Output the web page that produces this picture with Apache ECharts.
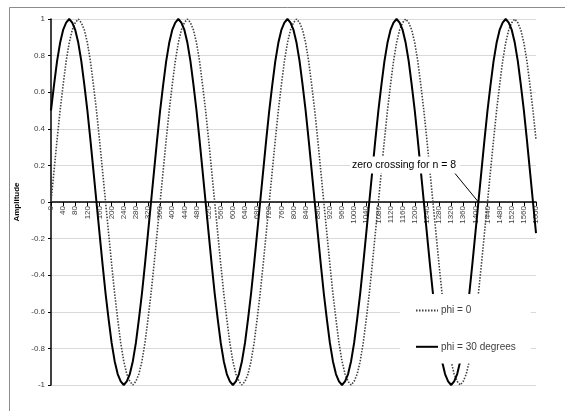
<!DOCTYPE html>
<html><head><meta charset="utf-8">
<script src="https://cdn.jsdelivr.net/npm/echarts@6/dist/echarts.min.js"></script>
<style>html,body{margin:0;padding:0;background:#fff}#c{width:565px;height:411px}</style>
</head><body><div id="c"></div>
<script>
const angles = [0,10,20,30,40,50,60,70,80,90,100,110,120,130,140,150,160,170,180,190,200,210,220,230,240,250,260,270,280,290,300,310,320,330,340,350,
360,370,380,390,400,410,420,430,440,450,460,470,480,490,500,510,520,530,540,550,560,570,580,590,600,610,620,630,640,650,660,670,680,690,700,710,
720,730,740,750,760,770,780,790,800,810,820,830,840,850,860,870,880,890,900,910,920,930,940,950,960,970,980,990,1000,1010,1020,1030,1040,1050,1060,1070,
1080,1090,1100,1110,1120,1130,1140,1150,1160,1170,1180,1190,1200,1210,1220,1230,1240,1250,1260,1270,1280,1290,1300,1310,1320,1330,1340,1350,1360,1370,1380,1390,1400,1410,1420,1430,
1440,1450,1460,1470,1480,1490,1500,1510,1520,1530,1540,1550,1560,1570,1580,1590,1600];
const phi0 = [0,.17,.34,.5,.64,.77,.87,.94,.98,1,.98,.94,.87,.77,.64,.5,.34,.17,0,-.17,-.34,-.5,-.64,-.77,-.87,-.94,-.98,-1,-.98,-.94,-.87,-.77,-.64,-.5,-.34,-.17,
0,.17,.34,.5,.64,.77,.87,.94,.98,1,.98,.94,.87,.77,.64,.5,.34,.17,0,-.17,-.34,-.5,-.64,-.77,-.87,-.94,-.98,-1,-.98,-.94,-.87,-.77,-.64,-.5,-.34,-.17,
0,.17,.34,.5,.64,.77,.87,.94,.98,1,.98,.94,.87,.77,.64,.5,.34,.17,0,-.17,-.34,-.5,-.64,-.77,-.87,-.94,-.98,-1,-.98,-.94,-.87,-.77,-.64,-.5,-.34,-.17,
0,.17,.34,.5,.64,.77,.87,.94,.98,1,.98,.94,.87,.77,.64,.5,.34,.17,0,-.17,-.34,-.5,-.64,-.77,-.87,-.94,-.98,-1,-.98,-.94,-.87,-.77,-.64,-.5,-.34,-.17,
0,.17,.34,.5,.64,.77,.87,.94,.98,1,.98,.94,.87,.77,.64,.5,.34];
const phi30 = [.5,.64,.77,.87,.94,.98,1,.98,.94,.87,.77,.64,.5,.34,.17,0,-.17,-.34,-.5,-.64,-.77,-.87,-.94,-.98,-1,-.98,-.94,-.87,-.77,-.64,-.5,-.34,-.17,0,.17,.34,
.5,.64,.77,.87,.94,.98,1,.98,.94,.87,.77,.64,.5,.34,.17,0,-.17,-.34,-.5,-.64,-.77,-.87,-.94,-.98,-1,-.98,-.94,-.87,-.77,-.64,-.5,-.34,-.17,0,.17,.34,
.5,.64,.77,.87,.94,.98,1,.98,.94,.87,.77,.64,.5,.34,.17,0,-.17,-.34,-.5,-.64,-.77,-.87,-.94,-.98,-1,-.98,-.94,-.87,-.77,-.64,-.5,-.34,-.17,0,.17,.34,
.5,.64,.77,.87,.94,.98,1,.98,.94,.87,.77,.64,.5,.34,.17,0,-.17,-.34,-.5,-.64,-.77,-.87,-.94,-.98,-1,-.98,-.94,-.87,-.77,-.64,-.5,-.34,-.17,0,.17,.34,
.5,.64,.77,.87,.94,.98,1,.98,.94,.87,.77,.64,.5,.34,.17,0,-.17];
const seriesNames = ['phi = 0', 'phi = 30 degrees'];
const annotationText = 'zero crossing for n = 8';
const arrowFrom = [1316, 0.19];
const arrowTo = [1410, 0];

const chart = echarts.init(document.getElementById('c'), null, {renderer: 'canvas'});
const font = 'Liberation Sans, Arial, sans-serif';
const plotTop = 19, plotBottomGap = 26, plotH = 411 - plotTop - plotBottomGap;
chart.setOption({
  animation: false,
  backgroundColor: '#fff',
  grid: [
    {left: 51, top: plotTop, right: 29, bottom: plotBottomGap},
    {left: 51, top: plotTop, right: 29, height: plotH / 2}
  ],
  xAxis: [
    {
      type: 'value', min: 0, max: 1600, interval: 40, gridIndex: 0, show: false
    },
    {
      type: 'value', min: 0, max: 1600, interval: 40, gridIndex: 1, position: 'bottom',
      axisLine: {onZero: false, lineStyle: {color: '#000', width: 1.5}},
      axisTick: {show: true, length: 4, lineStyle: {color: '#000'}},
      axisLabel: {rotate: 90, fontSize: 8, color: '#404040', margin: 4, fontFamily: font,
                  showMinLabel: true, showMaxLabel: true, formatter: v => String(v)},
      splitLine: {show: false}
    }
  ],
  yAxis: [
    {
      type: 'value', min: -1, max: 1, interval: 0.2, gridIndex: 0,
      name: 'Amplitude', nameLocation: 'middle', nameGap: 27, nameRotate: 90,
      nameTextStyle: {fontSize: 8, fontWeight: 'bold', color: '#000', fontFamily: font},
      axisLine: {show: true, onZero: false, lineStyle: {color: '#000', width: 1.5}},
      axisTick: {show: true, length: 3, lineStyle: {color: '#000'}},
      axisLabel: {fontSize: 8, color: '#404040', margin: 6, fontFamily: font},
      splitLine: {show: true, lineStyle: {color: '#d9d9d9', width: 1}}
    },
    {
      type: 'value', min: 0, max: 1, gridIndex: 1, show: false
    }
  ],
  legend: {
    data: seriesNames, orient: 'vertical', left: 400, top: 294,
    itemWidth: 22, itemHeight: 14, itemGap: 25,
    padding: [11, 15, 11, 15],
    backgroundColor: '#fff',
    itemStyle: {opacity: 0},
    textStyle: {fontSize: 10, color: '#404040', fontFamily: font, padding: [0, 0, 0, -2]}
  },
  series: [
    {
      name: seriesNames[0], type: 'line', symbol: 'none', z: 2, xAxisIndex: 0, yAxisIndex: 0,
      data: angles.map((a, i) => [a, phi0[i]]),
      lineStyle: {color: '#404040', width: 1.6, type: [1.5, 1.5]},
      itemStyle: {color: '#404040'}
    },
    {
      name: seriesNames[1], type: 'line', symbol: 'none', z: 3, xAxisIndex: 0, yAxisIndex: 0,
      data: angles.map((a, i) => [a, phi30[i]]),
      lineStyle: {color: '#000', width: 2},
      itemStyle: {color: '#000'},
      markLine: {
        silent: true, animation: false,
        symbol: ['none', 'arrow'], symbolSize: [0, 7],
        label: {show: false},
        lineStyle: {color: '#000', width: 1, type: 'solid'},
        data: [[{coord: arrowFrom}, {coord: arrowTo}]]
      }
    }
  ],
  graphic: [
    {type: 'rect', silent: true, z: 0, shape: {x: 9.5, y: 7.5, width: 700, height: 600},
     style: {fill: 'none', stroke: '#8c8c8c', lineWidth: 1}},
    {type: 'text', z: 10, x: 350, y: 165, silent: true,
     style: {text: annotationText, font: '10.5px ' + font, fill: '#000', verticalAlign: 'middle',
             backgroundColor: '#fff', padding: [3, 4, 3, 2]}}
  ]
});
</script></body></html>
